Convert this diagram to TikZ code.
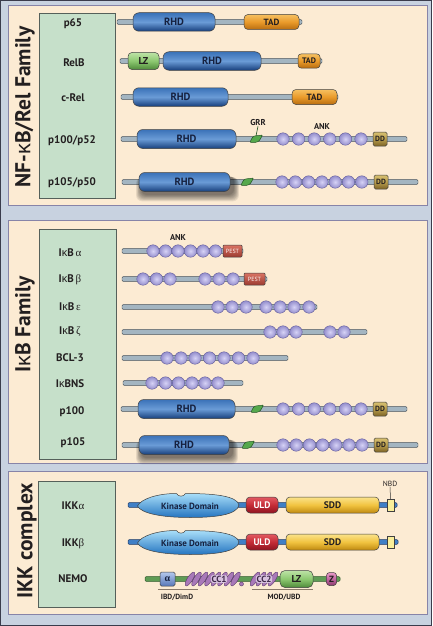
\documentclass[tikz,border=0pt]{standalone}
\usepackage{fontspec}
\setmainfont{PT Sans}
\newfontfamily\grk{Liberation Serif}
\newfontfamily\kap{Liberation Sans}
\definecolor{outerbg}{HTML}{C8D2E0}
\definecolor{outerln}{HTML}{3A3C4C}
\definecolor{panelbg}{HTML}{FCEBD3}
\definecolor{panelln}{HTML}{8784A8}
\definecolor{greenbx}{HTML}{C6E0CA}
\definecolor{greenln}{HTML}{55605A}
\definecolor{bbfill}{HTML}{A3B5C1}
\definecolor{bbdraw}{HTML}{46525C}
\definecolor{txt}{HTML}{231F20}
\definecolor{rhdT}{HTML}{3A72B8}
\definecolor{rhdM}{HTML}{6A9BD6}
\definecolor{rhdB}{HTML}{173F7C}
\definecolor{rhdTx}{HTML}{16213F}
\definecolor{tadT}{HTML}{F6C060}
\definecolor{tadM}{HTML}{E99A2A}
\definecolor{tadB}{HTML}{B86D10}
\definecolor{lzT}{HTML}{BDE3A6}
\definecolor{lzM}{HTML}{8CC870}
\definecolor{lzB}{HTML}{4F8A3A}
\definecolor{ddT}{HTML}{D8C070}
\definecolor{ddM}{HTML}{B79C4C}
\definecolor{ddB}{HTML}{7C6326}
\definecolor{beadin}{HTML}{D6D2F6}
\definecolor{beadout}{HTML}{948ECC}
\definecolor{beadln}{HTML}{5B5595}
\definecolor{pestT}{HTML}{DA7464}
\definecolor{pestB}{HTML}{9B3A30}
\definecolor{grrc}{HTML}{55A84C}
\definecolor{grrln}{HTML}{1F4F1F}
\definecolor{kinT}{HTML}{A8DEF9}
\definecolor{kinB}{HTML}{2474C0}
\definecolor{uldT}{HTML}{E45A62}
\definecolor{uldM}{HTML}{C42C36}
\definecolor{uldB}{HTML}{8E1420}
\definecolor{sddT}{HTML}{FBE38A}
\definecolor{sddM}{HTML}{F1C340}
\definecolor{sddB}{HTML}{C08A10}
\definecolor{nbdc}{HTML}{F9EE9A}
\definecolor{ikkbb}{HTML}{3F7FC6}
\definecolor{ikkln}{HTML}{1D3A66}
\definecolor{nemobb}{HTML}{5F9C55}
\definecolor{nemoln}{HTML}{2E5A2A}
\definecolor{alT}{HTML}{B4C8EE}
\definecolor{alB}{HTML}{5878B8}
\definecolor{ccc}{HTML}{A878B8}
\definecolor{ccln}{HTML}{5A3A6A}
\definecolor{zT}{HTML}{E898C8}
\definecolor{zM}{HTML}{C066A0}
\definecolor{zB}{HTML}{8A3A6C}
\definecolor{ulc}{HTML}{8A7A6A}
\newcommand\kp{{\kap\mdseries κ}}
\newcommand\gk[1]{{\grk\mdseries #1}}
\newcommand\backbone[4][bb]{\draw[#1] (#2,#4-2.4) rectangle (#3,#4+2.4);}
\newcommand\beadrow[3]{\foreach \x [count=\i] in {#3} \node[bead] (#1\i) at (\x,#2) {};}
\newcommand\grrshape[2]{\draw[grrsty] (#1-6,#2+3.5) .. controls (#1-4.5,#2-0.5) and (#1-3,#2-3.5) .. (#1+1,#2-3.2) -- (#1+6.5,#2-4) .. controls (#1+4.5,#2) and (#1+3,#2+3.2) .. (#1-1,#2+3.3) -- cycle;}
\newcommand\rhdshadow[3]{\foreach \k in {0,...,7} \fill[black, opacity=0.08, rounded corners=6pt] (#1-#3/2+2-\k*0.7,#2-6+\k*0.2) rectangle (#1+#3/2+4+\k*0.7,#2+13+\k*0.9);}
\newcommand\kinase[1]{\begin{scope}[shift={(0,#1)}]
 \draw[kin] (137.5,1) .. controls (141,-6) and (157,-11.5) .. (176.5,-11.5)
   .. controls (178,-8) and (184,-8) .. (185.5,-11.5)
   .. controls (215,-11.5) and (237,-9) .. (239,0)
   .. controls (237,10) and (215,12.5) .. (190,12.5)
   .. controls (160,12.5) and (141,8) .. (137.5,1) -- cycle;
 \end{scope}}
\newcommand\ccoval[2]{\draw[ccsty, rotate around={-32:(#1,#2)}] (#1,#2) ellipse (2.7 and 8);}
\begin{document}
\begin{tikzpicture}[x=1pt,y=-1pt,
 bb/.style={draw=bbdraw, fill=bbfill, line width=0.45pt, rounded corners=1.2pt},
 bbk/.style={draw=ikkln, fill=ikkbb, line width=0.5pt, rounded corners=1.2pt},
 bbn/.style={draw=nemoln, fill=nemobb, line width=0.5pt, rounded corners=1.2pt},
 panel/.style={fill=panelbg, draw=panelln, line width=1pt},
 gbox/.style={fill=greenbx, draw=greenln, line width=0.6pt},
 lab/.style={font=\bfseries\fontsize{11}{11}\selectfont, text=txt, inner sep=0pt},
 ttl/.style={font=\bfseries\fontsize{21.5}{21.5}\selectfont, text=txt, rotate=90, inner sep=0pt},
 dom/.style={draw=black!75, line width=0.5pt, rounded corners=4pt, inner sep=0pt, font=\bfseries\fontsize{9}{9}\selectfont, text=txt},
 rhd/.style={dom, top color=rhdT, bottom color=rhdB, middle color=rhdM, text=rhdTx, minimum height=18.5pt, rounded corners=6pt, font=\bfseries\fontsize{10.5}{10.5}\selectfont},
 tad/.style={dom, top color=tadT, bottom color=tadB, middle color=tadM, minimum height=15pt},
 lz/.style={dom, top color=lzT, bottom color=lzB, middle color=lzM, font=\bfseries\fontsize{10}{10}\selectfont},
 dd/.style={dom, rounded corners=1.5pt, top color=ddT, bottom color=ddB, middle color=ddM, minimum width=14pt, minimum height=14pt, font=\bfseries\fontsize{7.5}{7.5}\selectfont},
 pest/.style={dom, rounded corners=1pt, top color=pestT, bottom color=pestB, minimum height=12pt, text=white!90!pink, font=\fontsize{6}{6}\selectfont},
 bead/.style={circle, minimum size=12.5pt, inner sep=0pt, draw=beadln, line width=0.35pt, inner color=beadin, outer color=beadout},
 grrsty/.style={fill=grrc, draw=grrln, line width=0.45pt, rounded corners=0.8pt},
 small/.style={font=\bfseries\fontsize{8.5}{8.5}\selectfont, text=txt, inner sep=0pt},
 kin/.style={draw=black!75, line width=0.5pt, top color=kinT, bottom color=kinB},
 kdtext/.style={font=\bfseries\fontsize{9}{9}\selectfont, text=rhdTx, inner sep=0pt},
 uld/.style={dom, top color=uldT, bottom color=uldB, middle color=uldM, text=white, minimum height=16pt, font=\bfseries\fontsize{9.5}{9.5}\selectfont},
 sdd/.style={dom, top color=sddT, bottom color=sddB, middle color=sddM, minimum height=16pt, font=\bfseries\fontsize{9.5}{9.5}\selectfont},
 nbd/.style={draw=black!75, line width=0.5pt, fill=nbdc, inner sep=0pt},
 ccsty/.style={fill=ccc, draw=ccln, line width=0.4pt},
 cctext/.style={font=\bfseries\fontsize{9}{9}\selectfont, text=ccln!70!black, inner sep=0.6pt, fill=ccc!45!white, rounded corners=2pt},
 ul/.style={draw=ulc, line width=1pt}
]
\useasboundingbox (0,0) rectangle (432,626);
\fill[outerbg] (0,0) rectangle (432,626);
\draw[outerln, line width=1pt] (0.5,0.5) rectangle (431.5,625.5);

% ---------------- panels
\draw[panel] (8,6) rectangle (427,205);
\draw[panel] (8,220) rectangle (427,463);
\draw[panel] (8,471) rectangle (427,614);
\draw[gbox] (39,13) rectangle (115,198);
\draw[gbox] (39,229) rectangle (116,459);
\draw[gbox] (38,481) rectangle (115,607);

\node[ttl] (t1) at (25,107) {NF-\kp B/Rel Family};
\node[ttl] (t2) at (25,324) {I\kp B Family};
\node[ttl] (t3) at (27,541) {IKK complex};

% ---------------- NF-kB / Rel family
\node[lab] (l1) at (73,24) {p65};
\node[lab] (l2) at (74,63) {RelB};
\node[lab] (l3) at (73,97.5) {c-Rel};
\node[lab] (l4) at (72,141) {p100/p52};
\node[lab] (l5) at (72,183) {p105/p50};

% p65
\backbone{117}{302}{22}
\node[rhd, minimum width=82pt] (p65rhd) at (174,22) {RHD};
\node[tad, minimum width=55pt] (p65tad) at (271.5,22) {TAD};
% RelB
\backbone{120}{322}{61}
\node[lz, minimum width=31pt, minimum height=17pt] (relblz) at (143.5,61) {LZ};
\node[rhd, minimum width=98pt] (relbrhd) at (212,61) {RHD};
\node[tad, minimum width=22pt, minimum height=14pt, rounded corners=3pt, font=\bfseries\fontsize{8}{8}\selectfont] (relbtad) at (309,61) {TAD};
% c-Rel
\backbone{121}{338}{97}
\node[rhd, minimum width=95pt] (crelrhd) at (180.5,97) {RHD};
\node[tad, minimum width=45pt] (creltad) at (314.5,97) {TAD};
% p100/p52
\backbone{121}{407}{139}
\node[rhd, minimum width=99pt, minimum height=19pt] (p100rhd) at (186.5,139) {RHD};
\grrshape{256}{139}
\beadrow{pa}{139}{283,298.6,314.2,329.8,345.4,361}
\node[dd] (p100dd) at (380,139) {DD};
\node[small] (grr) at (258,123) {GRR};
\coordinate (grrpt) at (256,136);
\draw[grrln, line width=0.6pt] (grr.south) -- (grrpt);
\node[small] (ank1) at (322,127) {ANK};
% p105/p50
\backbone{122}{418}{182}
\rhdshadow{184.5}{182}{91}
\node[rhd, minimum width=91pt, minimum height=19pt] (p105rhd) at (184.5,182) {RHD};
\grrshape{247}{182}
\beadrow{pb}{182}{282,295.3,308.6,321.9,335.2,348.5,361.8}
\node[dd] (p105dd) at (381,182) {DD};

% ---------------- IkB family
\node[lab] (m1) at (70,253) {I\kp B\,\gk{α}};
\node[lab] (m2) at (70,280) {I\kp B\,\gk{β}};
\node[lab] (m3) at (70,307) {I\kp B\,\gk{ε}};
\node[lab] (m4) at (70,332) {I\kp B\,\gk{ζ}};
\node[lab] (m5) at (70,358) {BCL-3};
\node[lab] (m6) at (70,384) {I\kp BNS};
\node[lab] (m7) at (72,412) {p100};
\node[lab] (m8) at (73,443) {p105};

% IkBa
\backbone{122}{243}{251}
\beadrow{ia}{251}{153,165.5,178,190.5,203,215.5}
\node[pest, minimum width=19pt] (iapest) at (232.5,251) {PEST};
\node[small] (ank2) at (178,238) {ANK};
% IkBb
\backbone{122}{267}{279}
\beadrow{ib}{279}{143,156.5,170,205,219,233}
\node[pest, minimum width=21pt] (ibpest) at (254.5,279) {PEST};
% IkBe
\backbone{122}{317}{307}
\beadrow{ie}{307}{218,232,246,266,280,294,309}
% IkBz
\backbone{122}{367}{332}
\beadrow{iz}{332}{270,283,296,330,344}
% BCL-3
\backbone{122}{288}{358}
\beadrow{bc}{358}{167,181,195,209.5,224,238.5,253}
% IkBNS
\backbone{123}{243}{383}
\beadrow{ns}{383}{152,165.5,178.5,192,205,218}
% p100
\backbone{121}{407}{409}
\node[rhd, minimum width=97pt, minimum height=19pt] (q100rhd) at (186.5,409) {RHD};
\grrshape{257}{409}
\beadrow{qa}{409}{283,298.6,314.2,329.8,345.4,361}
\node[dd] (q100dd) at (380,409) {DD};
% p105
\backbone{122}{418}{445}
\rhdshadow{184}{445}{90}
\node[rhd, minimum width=90pt, minimum height=19pt] (q105rhd) at (184,445) {RHD};
\grrshape{248}{445}
\beadrow{qb}{445}{283,296.2,309.4,322.6,335.8,349,362}
\node[dd] (q105dd) at (381,445) {DD};

% ---------------- IKK complex
\node[lab] (n1) at (73,506) {IKK\gk{α}};
\node[lab] (n2) at (73,544) {IKK\gk{β}};
\node[lab] (n3) at (73,579) {NEMO};

% IKKa
\backbone[bbk]{128}{397}{505}
\kinase{505}
\node[kdtext] (kda) at (190,506.5) {Kinase Domain};
\node[uld, minimum width=32pt] (ulda) at (262,505) {ULD};
\node[sdd, minimum width=93pt] (sdda) at (332.5,505) {SDD};
\node[nbd, minimum width=7.5pt, minimum height=12pt] (nbda) at (390.5,505) {};
\node[font=\fontsize{7.5}{7.5}\selectfont, text=txt, inner sep=0pt] (nbdlab) at (390,484) {NBD};
\draw[black!80, line width=0.5pt] (nbdlab.south) -- (nbda.north);
% IKKb
\backbone[bbk]{128}{398}{542}
\kinase{542}
\node[kdtext] (kdb) at (190,543.5) {Kinase Domain};
\node[uld, minimum width=32pt] (uldb) at (262,542) {ULD};
\node[sdd, minimum width=93pt] (sddb) at (332.5,542) {SDD};
\node[nbd, minimum width=7.5pt, minimum height=12pt] (nbdb) at (390.5,542) {};
% NEMO
\backbone[bbn]{145}{340}{579}
\node[dom, rounded corners=1.5pt, top color=alT, bottom color=alB, minimum width=15pt, minimum height=14pt, font=\grk\bfseries\fontsize{10}{10}\selectfont, text=rhdTx] (nal) at (167.5,579) {α};
\foreach \x in {190,196.5,203,209.5,216,222.5,229,235.5} {\ccoval{\x}{579}}
\draw[ccsty] (241.5,584) circle (2);
\node[cctext] (cc1) at (219,579) {CC1};
\foreach \x in {255,261,267,273} {\ccoval{\x}{579}}
\node[cctext] (cc2) at (264,579) {CC2};
\node[lz, minimum width=33pt, minimum height=17pt, rounded corners=5pt] (nlz) at (296.5,579) {LZ};
\node[dom, rounded corners=3pt, top color=zT, bottom color=zB, middle color=zM, minimum width=10pt, minimum height=13pt] (nz) at (331.5,579) {Z};
\draw[ul] (158,589.5) -- (198,589.5);
\draw[ul] (252,589.5) -- (313,589.5);
\node[font=\bfseries\fontsize{7.5}{7.5}\selectfont, text=txt, inner sep=0pt] (ibd) at (177,597.5) {IBD/DimD};
\node[font=\bfseries\fontsize{7.5}{7.5}\selectfont, text=txt, inner sep=0pt] (mod) at (284,597.5) {MOD/UBD};
\end{tikzpicture}
\end{document}
